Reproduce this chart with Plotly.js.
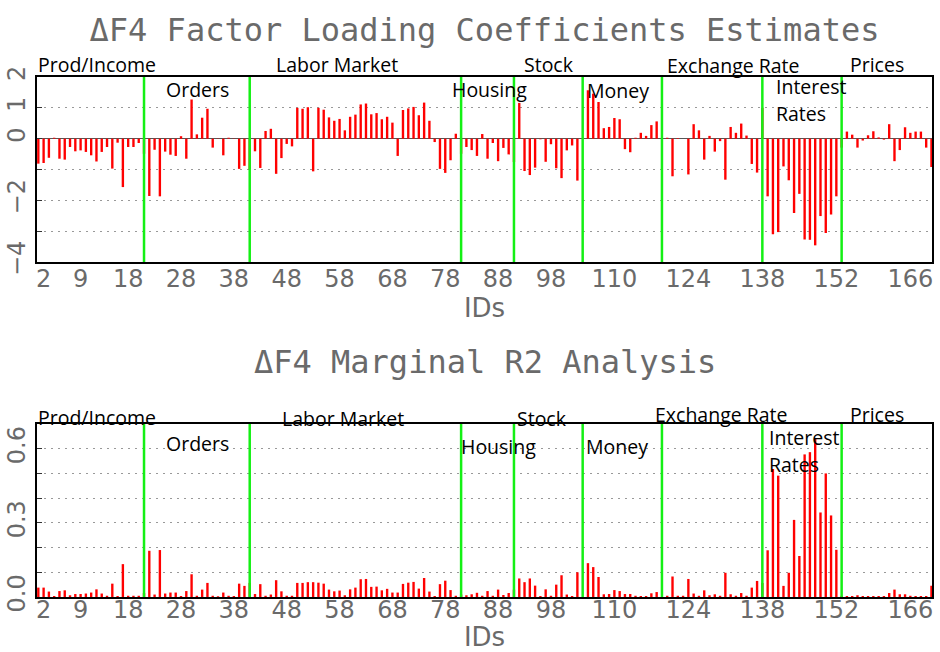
<!DOCTYPE html>
<html>
<head>
<meta charset="utf-8">
<script src="https://cdn.plot.ly/plotly-3.0.1.min.js"></script>
<style>html,body{margin:0;padding:0;background:#fff}#chart{width:940px;height:652px}</style>
</head>
<body>
<div id="chart"></div>
<script>
// ---- Data ----
const loadings = [
 -0.81,-0.79,-0.62,0.03,-0.65,-0.68,-0.27,-0.41,-0.38,-0.43,
 -0.54,-0.74,-0.43,-0.27,-0.97,-0.13,-1.57,-0.27,-0.27,-0.14,
 -0.49,-1.86,-0.36,-1.87,-0.42,-0.52,-0.56,0.08,-0.65,1.27,
 0.14,0.68,0.97,-0.29,0.01,-0.54,0.03,0.01,-0.98,-0.88,
 -1.00,-0.41,-0.95,0.25,0.32,-1.14,-0.63,-0.17,-0.25,1.00,
 0.97,1.02,-1.06,1.00,0.94,0.69,0.58,0.64,0.27,0.71,
 0.78,1.11,1.14,0.79,0.83,0.63,0.71,0.52,-0.56,0.93,
 0.98,1.03,0.76,1.17,0.58,-0.11,-0.98,-1.11,-0.70,0.16,
 -0.49,-0.27,-0.37,-0.56,0.15,-0.65,-0.14,-0.73,-0.30,-0.51,
 -0.76,1.16,-1.05,-1.18,-0.94,-0.02,-0.75,-0.18,-0.96,-1.28,
 -0.38,-0.22,-1.36,0.00,1.57,1.46,1.19,0.34,0.38,0.67,
 0.63,-0.34,-0.44,0.03,0.19,0.09,0.44,0.56,0.00,0.03,
 -1.22,0.02,0.00,-1.16,0.47,0.27,-0.68,0.09,-0.42,-0.08,
 -1.33,0.38,0.19,0.49,0.10,-0.82,-1.10,1.00,-1.87,-3.10,
 -3.03,-0.90,-1.35,-2.41,-1.79,-3.27,-3.28,-3.46,-2.51,-3.06,
 -2.46,-1.87,-0.29,0.23,0.13,-0.29,-0.06,0.11,0.24,0.04,
 -0.03,0.47,-0.73,-0.37,0.37,0.19,0.23,0.23,-0.29,-0.92
];
const marginalR2 = [
 0.038,0.038,0.022,0.004,0.024,0.027,0.007,0.012,0.012,0.014,
 0.018,0.031,0.014,0.005,0.054,0.004,0.133,0.005,0.005,0.005,
 0.016,0.187,0.010,0.190,0.014,0.018,0.018,0.004,0.024,0.092,
 0.005,0.030,0.057,0.005,0.003,0.018,0.005,0.004,0.054,0.045,
 0.057,0.012,0.052,0.005,0.010,0.068,0.023,0.005,0.005,0.057,
 0.057,0.060,0.060,0.058,0.054,0.030,0.023,0.026,0.007,0.031,
 0.038,0.072,0.073,0.041,0.042,0.027,0.033,0.018,0.018,0.053,
 0.058,0.061,0.034,0.077,0.022,0.004,0.052,0.066,0.028,0.005,
 0.010,0.007,0.011,0.017,0.005,0.024,0.005,0.030,0.008,0.016,
 0.030,0.075,0.060,0.075,0.046,0.004,0.031,0.005,0.050,0.088,
 0.010,0.004,0.100,0.000,0.137,0.121,0.081,0.011,0.012,0.028,
 0.024,0.012,0.012,0.005,0.004,0.004,0.015,0.020,0.000,0.005,
 0.083,0.005,0.005,0.073,0.014,0.005,0.027,0.007,0.011,0.005,
 0.098,0.011,0.005,0.016,0.005,0.038,0.065,0.057,0.189,0.518,
 0.491,0.045,0.098,0.312,0.166,0.577,0.586,0.642,0.342,0.500,
 0.330,0.191,0.005,0.004,0.004,0.007,0.004,0.004,0.004,0.004,
 0.004,0.016,0.030,0.011,0.011,0.005,0.004,0.004,0.004,0.046
];
const groupNames = ["Prod/Income","Orders","Labor Market","Housing","Stock","Money","Exchange Rate","Interest Rates","Prices"];
const groupBoundaryIDs = [21,41,81,91,104,119,138,153];
const xTickVals = [2,9,18,28,38,48,58,68,78,88,98,110,124,138,152,166];
const xTickText = xTickVals.map(String);
const topYTickVals = [-4,-3,-2,-1,0,1,2];
const topYTickText = ["\u22124","","\u22122","","0","1","2"];
const botYTickVals = [0,0.1,0.2,0.3,0.4,0.5,0.6,0.7];
const botYTickText = ["0.0","","","0.3","","","0.6",""];
const ids = loadings.map((_, i) => i + 1);

// ---- Layout helpers (pixel positions -> paper) ----
const W = 940, H = 652, ML = 37, MR = 8;
const PW = W - ML - MR;
const px = x => (x - ML) / PW;
const py = y => 1 - y / H;

const tickFont = {family: "DejaVu Sans", size: 24, color: "#6a6a6a"};
const lblFont = {family: "Open Sans", size: 19.5, color: "#000"};
const titleFont = {family: "DejaVu Sans Mono", size: 32, color: "#6a6a6a"};
const axTitleFont = {family: "DejaVu Sans", size: 26, color: "#6a6a6a"};

const xCommon = {
  range: [0.75, 170.1], tickvals: xTickVals, ticktext: xTickText,
  tickfont: tickFont, showgrid: false, zeroline: false,
  showline: true, mirror: true, linecolor: "#000", linewidth: 2,
  ticks: "", automargin: false, fixedrange: true
};
const yCommon = {
  tickfont: tickFont, tickangle: -90, showgrid: true, gridcolor: "#999",
  griddash: "2px,5px", gridwidth: 1, showline: true, mirror: true,
  linecolor: "#000", linewidth: 2, ticks: "inside", ticklen: 5,
  tickcolor: "#333", automargin: false, fixedrange: true
};

const traces = [
  {type: "bar", x: ids, y: loadings, xaxis: "x", yaxis: "y",
   marker: {color: "#ff0000", line: {width: 0}}, hoverinfo: "none"},
  {type: "bar", x: ids, y: marginalR2, xaxis: "x2", yaxis: "y2",
   marker: {color: "#ff0000", line: {width: 0}}, hoverinfo: "none"}
];

const shapes = [];
groupBoundaryIDs.forEach(b => {
  shapes.push({type: "line", xref: "x", yref: "y domain", x0: b, x1: b, y0: 0, y1: 1,
               line: {color: "rgb(20,240,20)", width: 2.5}});
  shapes.push({type: "line", xref: "x2", yref: "y2 domain", x0: b, x1: b, y0: 0, y1: 1,
               line: {color: "rgb(20,240,20)", width: 2.5}});
});

// label placements (left x px, centre y px) for top and bottom panels
const topLabelPos = [[36,65],[164,90],[274,65],[450,90],[522,65],[585,91],[665,66],[774,86],[848,65]];
const botLabelPos = [[36,417],[164,443],[280,418],[459,446],[515,418],[584,446],[653,414],[767,437],[848,414]];

const annotations = [];
function addLabels(pos) {
  groupNames.forEach((name, i) => {
    const [x, y] = pos[i];
    if (name === "Interest Rates") {
      annotations.push({text: "Interest", xref: "paper", yref: "paper", x: px(x), y: py(y),
        xanchor: "left", yanchor: "middle", showarrow: false, font: lblFont});
      annotations.push({text: "Rates", xref: "paper", yref: "paper", x: px(x), y: py(y + 27),
        xanchor: "left", yanchor: "middle", showarrow: false, font: lblFont});
    } else {
      annotations.push({text: name, xref: "paper", yref: "paper", x: px(x), y: py(y),
        xanchor: "left", yanchor: "middle", showarrow: false, font: lblFont});
    }
  });
}
addLabels(topLabelPos);
addLabels(botLabelPos);
annotations.push({text: "\u0394F4 Marginal R2 Analysis", xref: "paper", yref: "paper",
  x: 0.5, y: py(362), xanchor: "center", yanchor: "middle", showarrow: false, font: titleFont});

const layout = {
  width: W, height: H,
  margin: {l: ML, r: MR, t: 0, b: 0, pad: 0},
  paper_bgcolor: "#fff", plot_bgcolor: "#fff",
  showlegend: false, hovermode: false, bargap: 0.55,
  title: {text: "\u0394F4 Factor Loading Coefficients Estimates", font: titleFont,
          x: 0.5, xref: "paper", xanchor: "center", y: py(30), yref: "container", yanchor: "middle"},
  xaxis: Object.assign({}, xCommon, {anchor: "y", domain: [0, 1], ticklabelstandoff: -6,
          title: {text: "IDs", font: axTitleFont, standoff: 3}}),
  yaxis: Object.assign({}, yCommon, {anchor: "x", domain: [py(262), py(77)], range: [-4, 2],
          tickvals: topYTickVals, ticktext: topYTickText,
          zeroline: true, zerolinecolor: "#555", zerolinewidth: 1.5}),
  xaxis2: Object.assign({}, xCommon, {anchor: "y2", domain: [0, 1], ticklabelstandoff: -10,
          title: {text: "IDs", font: axTitleFont, standoff: 23}}),
  yaxis2: Object.assign({}, yCommon, {anchor: "x2", domain: [py(597), py(424)], range: [0, 0.7],
          tickvals: botYTickVals, ticktext: botYTickText, zeroline: false}),
  shapes: shapes,
  annotations: annotations
};

Plotly.newPlot("chart", traces, layout, {displayModeBar: false, staticPlot: true});
</script>
</body>
</html>
